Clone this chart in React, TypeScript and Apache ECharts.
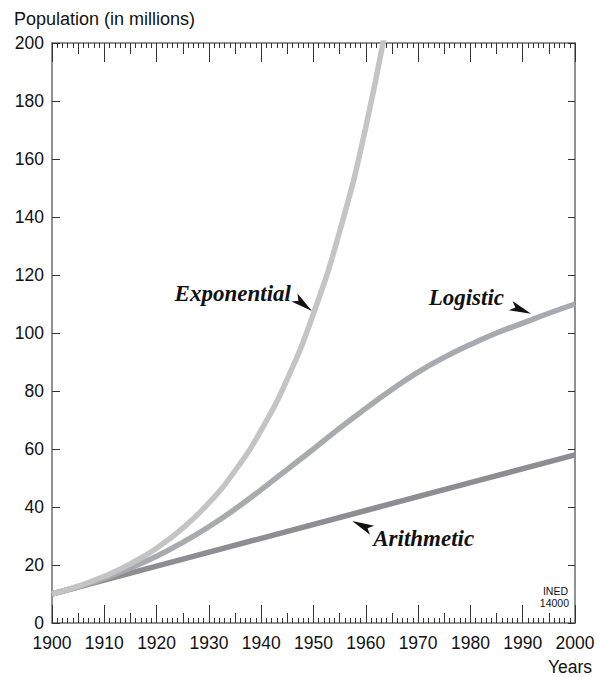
import React, { useEffect, useRef } from "react";
import * as echarts from "echarts";

const years = [1900, 1905, 1910, 1915, 1920, 1925, 1930, 1935, 1940, 1945, 1950, 1955, 1960, 1965];
const exponential = [10, 12.7, 16.1, 20.4, 25.8, 32.7, 41.4, 52.5, 66.5, 84.2, 106.7, 135, 171, 217];

const logisticYears = [1900, 1905, 1910, 1915, 1920, 1925, 1930, 1935, 1940, 1945, 1950, 1955, 1960, 1965, 1970, 1975, 1980, 1985, 1990, 1995, 2000];
const logistic = [10, 12.5, 15.4, 19, 23, 27.8, 33.2, 39.3, 46, 53, 60, 67.2, 74, 80.5, 86.5, 91.6, 96, 100, 103.4, 106.8, 110];

const arithmeticYears = [1900, 1920, 1940, 1960, 1980, 2000];
const arithmetic = [10, 19.6, 29.2, 38.8, 48.4, 58];

const yTicks = [0, 20, 40, 60, 80, 100, 120, 140, 160, 180, 200];

// label annotations: text, arrow tip (data coords), arrow direction, text offset
const annotationNames = ["Exponential", "Logistic", "Arithmetic"];
const annotationTips = [[1949.7, 107.6], [1991.6, 106.6], [1957.4, 35.2]];
const annotationDirs = [[17, 13], [22, 9], [-19, -9]];
const annotationOffsets = [[-21, -17, "right"], [-27, -16, "right"], [21, 18, "left"]];

const AXIS_COLOR = "#6c6c6c";
const TICK_COLOR = "#333";
const FONT = "'Liberation Sans', Arial, sans-serif";

export default function App() {
  const ref = useRef<HTMLDivElement>(null);
  useEffect(() => {
    if (!ref.current) return;
    const chart = echarts.init(ref.current, null, { renderer: "svg" });
    const xBase = (position: string, interval: number, tickLen: number, showLine: boolean, showLabel: boolean, minor: boolean) => ({
      type: "value",
      position,
      min: 1900,
      max: 2000,
      interval,
      axisLine: { show: showLine, onZero: false, lineStyle: { color: AXIS_COLOR, width: 1.5 } },
      axisTick: { show: true, inside: true, length: tickLen, lineStyle: { color: TICK_COLOR, width: 1 } },
      minorTick: { show: minor, splitNumber: 10, length: 5, lineStyle: { color: TICK_COLOR, width: 1 } },
      axisLabel: {
        show: showLabel,
        color: "#111",
        fontSize: 17.5,
        fontFamily: FONT,
        margin: 11,
        formatter: (v: number) => String(v),
      },
      splitLine: { show: false },
      minorSplitLine: { show: false },
    });
    const yBase = (position: string, tickLen: number, showLabel: boolean) => ({
      type: "value",
      position,
      min: yTicks[0],
      max: yTicks[yTicks.length - 1],
      interval: 20,
      axisLine: { show: true, onZero: false, lineStyle: { color: AXIS_COLOR, width: 1.5 } },
      axisTick: { show: true, inside: true, length: tickLen, lineStyle: { color: TICK_COLOR, width: 1 } },
      axisLabel: { show: showLabel, color: "#111", fontSize: 17.5, fontFamily: FONT, margin: 8 },
      splitLine: { show: false },
    });
    chart.setOption({
      animation: false,
      backgroundColor: "#fff",
      grid: { left: 52, right: 26, top: 43, bottom: 54, containLabel: false, outerBoundsMode: "none" },
      xAxis: [
        xBase("bottom", 10, 18, true, true, true),
        xBase("bottom", 5, 10, false, false, false),
        xBase("top", 10, 19, true, false, true),
        xBase("top", 5, 11, false, false, false),
      ],
      yAxis: [yBase("left", 8, true), yBase("right", 7, false)],
      series: [
        {
          type: "line",
          name: "Arithmetic",
          data: arithmeticYears.map((x, i) => [x, arithmetic[i]]),
          showSymbol: false,
          lineStyle: { color: "#8e8e92", width: 5.5 },
          clip: true,
          z: 3,
        },
        {
          type: "line",
          name: "Logistic",
          data: logisticYears.map((x, i) => [x, logistic[i]]),
          smooth: true,
          showSymbol: false,
          lineStyle: { color: "#a8aaad", width: 5.5 },
          clip: true,
          z: 4,
        },
        {
          type: "line",
          name: "Exponential",
          data: years.map((x, i) => [x, exponential[i]]),
          smooth: true,
          showSymbol: false,
          lineStyle: { color: "#c4c4c4", width: 5.5 },
          clip: true,
          z: 5,
        },
      ],
    });

    const graphics: any[] = [
      {
        type: "text",
        left: 14,
        top: 10,
        style: { text: "Population (in millions)", fontSize: 18, fontFamily: FONT, fill: "#111" },
      },
      {
        type: "text",
        right: 9,
        top: 658,
        style: { text: "Years", fontSize: 17.5, fontFamily: FONT, fill: "#111" },
      },
      {
        type: "text",
        x: 568,
        y: 591,
        style: { text: "INED", fontSize: 10.5, fontFamily: FONT, fill: "#111", align: "right", verticalAlign: "middle" },
      },
      {
        type: "text",
        x: 569,
        y: 603,
        style: { text: "14000", fontSize: 10.5, fontFamily: FONT, fill: "#111", align: "right", verticalAlign: "middle" },
      },
    ];
    annotationNames.forEach((name, i) => {
      const tip = chart.convertToPixel({ xAxisIndex: 0, yAxisIndex: 0 }, annotationTips[i]) as number[];
      const [dxr, dyr] = annotationDirs[i];
      const len = Math.hypot(dxr, dyr);
      const dx = dxr / len;
      const dy = dyr / len;
      const L = 22;
      const w = 5;
      const notch = 5;
      const bx = tip[0] - dx * L;
      const by = tip[1] - dy * L;
      const px = -dy;
      const py = dx;
      graphics.push({
        type: "polygon",
        shape: {
          points: [
            [tip[0], tip[1]],
            [bx + px * w, by + py * w],
            [bx + dx * notch, by + dy * notch],
            [bx - px * w, by - py * w],
          ],
        },
        style: { fill: "#111" },
        z: 10,
      });
      const off = annotationOffsets[i];
      graphics.push({
        type: "text",
        x: tip[0] + (off[0] as number),
        y: tip[1] + (off[1] as number),
        style: {
          text: name,
          fontSize: 23,
          fontStyle: "italic",
          fontWeight: "bold",
          fontFamily: "'Liberation Serif', 'Times New Roman', serif",
          fill: "#111",
          align: off[2] as string,
          verticalAlign: "middle",
        },
        z: 10,
      });
    });
    chart.setOption({ graphic: graphics });
    return () => chart.dispose();
  }, []);
  return <div ref={ref} style={{ position: "fixed", left: 0, top: 0, width: 601, height: 677 }} />;
}
